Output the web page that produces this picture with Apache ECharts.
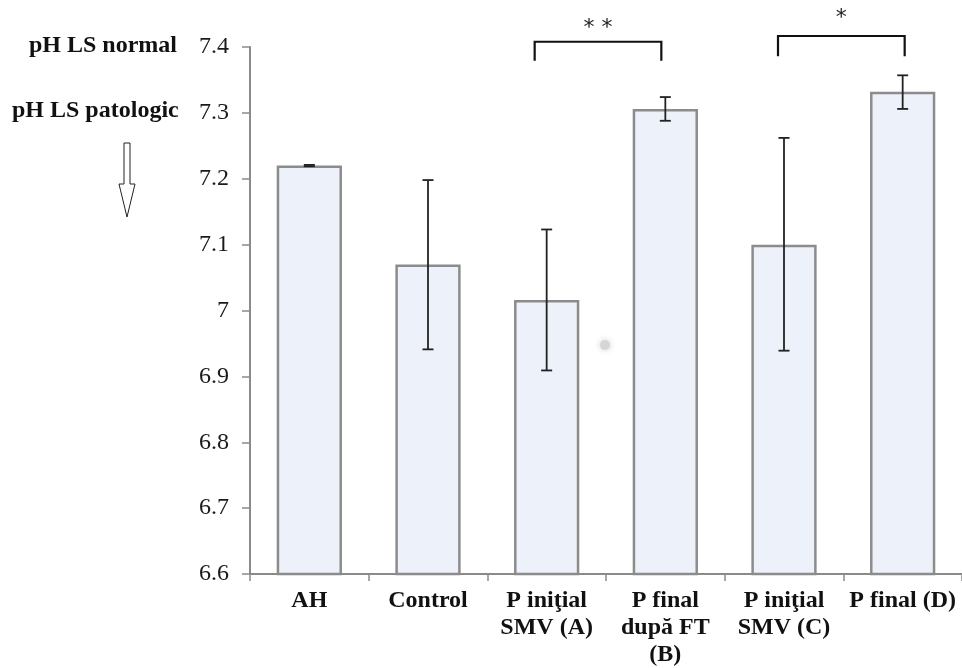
<!DOCTYPE html>
<html>
<head>
<meta charset="utf-8">
<script src="https://cdn.jsdelivr.net/npm/echarts@6/dist/echarts.min.js"></script>
<style>html,body{margin:0;padding:0;background:#fff;}#c{width:962px;height:668px;}</style>
</head>
<body>
<div id="c"></div>
<script>
const categories = ['AH', 'Control', 'P iniţial\nSMV (A)', 'P final\ndupă FT\n(B)', 'P iniţial\nSMV (C)', 'P final (D)'];
const means = [7.22, 7.07, 7.016, 7.306, 7.10, 7.332];
const errLow = [7.219, 6.941, 6.909, 7.288, 6.939, 7.306];
const errHigh = [7.221, 7.198, 7.123, 7.324, 7.262, 7.357];
const yTicks = { min: 6.6, max: 7.4, interval: 0.1 };
// significance brackets: [fromIndex, toIndex, topValue, endValue, label, labelValue]
const brackets = [
  [2, 3, 7.408, 7.379, '* *', 7.429],
  [4, 5, 7.4167, 7.386, '*', 7.444]
];
const bracketOffsets = [[-12, -4], [-6, 2]];

const SERIF = "'Liberation Serif', 'Times New Roman', serif";
const chart = echarts.init(document.getElementById('c'));
chart.setOption({
  animation: false,
  backgroundColor: '#fff',
  grid: { left: 250, right: 0, top: 47, bottom: 92, containLabel: false },
  xAxis: {
    type: 'category',
    data: categories,
    axisLine: { lineStyle: { color: '#8a8a8a', width: 2 } },
    axisTick: { show: true, alignWithLabel: false, length: 7, lineStyle: { color: '#8a8a8a', width: 1.5 } },
    axisLabel: { interval: 0, margin: 13, fontFamily: SERIF, fontWeight: 'bold', fontSize: 24, lineHeight: 27, color: '#111' }
  },
  yAxis: {
    type: 'value',
    min: yTicks.min, max: yTicks.max, interval: yTicks.interval,
    axisLine: { show: true, lineStyle: { color: '#8a8a8a', width: 2 } },
    axisTick: { show: true, length: 8, lineStyle: { color: '#8a8a8a', width: 1.5 } },
    splitLine: { show: false },
    axisLabel: { margin: 21, fontFamily: SERIF, fontSize: 24, color: '#1a1a1a' }
  },
  series: [
    {
      type: 'bar',
      data: means,
      barWidth: '55%',
      itemStyle: { color: '#edf1f9', borderColor: '#8c8c8c', borderWidth: 2.5 }
    },
    {
      type: 'custom',
      data: categories.map((c, i) => [i, errLow[i], errHigh[i]]),
      z: 10,
      renderItem: function (params, api) {
        const lo = api.coord([api.value(0), api.value(1)]);
        const hi = api.coord([api.value(0), api.value(2)]);
        const hw = 5.5;
        const st = { stroke: '#222', lineWidth: 1.8 };
        return {
          type: 'group',
          children: [
            { type: 'line', shape: { x1: lo[0], y1: lo[1], x2: hi[0], y2: hi[1] }, style: st },
            { type: 'line', shape: { x1: lo[0] - hw, y1: lo[1], x2: lo[0] + hw, y2: lo[1] }, style: st },
            { type: 'line', shape: { x1: hi[0] - hw, y1: hi[1], x2: hi[0] + hw, y2: hi[1] }, style: st }
          ]
        };
      }
    },
    {
      type: 'custom',
      clip: false,
      data: brackets.map((b, k) => [b[0], b[1], b[2], b[3], b[5], k]),
      z: 10,
      renderItem: function (params, api) {
        const k = api.value(5);
        const off = bracketOffsets[k];
        const b = brackets[k];
        const pL = api.coord([api.value(0), api.value(2)]);
        const pR = api.coord([api.value(1), api.value(2)]);
        const pE = api.coord([api.value(0), api.value(3)]);
        const pT = api.coord([api.value(0), api.value(4)]);
        const xl = pL[0] + off[0], xr = pR[0] + off[1];
        const st = { stroke: '#111', lineWidth: 2.2, fill: null };
        return {
          type: 'group',
          children: [
            { type: 'polyline', shape: { points: [[xl, pE[1]], [xl, pL[1]], [xr, pL[1]], [xr, pE[1]]] }, style: st },
            { type: 'text', style: { text: b[4], x: (xl + xr) / 2, y: pT[1], align: 'center', verticalAlign: 'middle', font: "22px 'DejaVu Sans', sans-serif", fill: '#222' } }
          ]
        };
      }
    }
  ],
  graphic: [
    { type: 'text', left: 29, top: 34, style: { text: 'pH LS normal', font: "bold 24px 'Liberation Serif', serif", fill: '#111' } },
    { type: 'text', left: 12, top: 99, style: { text: 'pH LS patologic', font: "bold 24px 'Liberation Serif', serif", fill: '#111' } },
    { type: 'polygon', shape: { points: [[124, 143], [130, 143], [130, 184], [135, 184], [127, 217], [119, 184], [124, 184]] }, style: { fill: '#fff', stroke: '#222', lineWidth: 1 } },
    { type: 'circle', shape: { cx: 605, cy: 345, r: 5 }, style: { fill: '#d6d6d6', shadowBlur: 6, shadowColor: '#d0d0d0' } }
  ]
});
</script>
</body>
</html>
